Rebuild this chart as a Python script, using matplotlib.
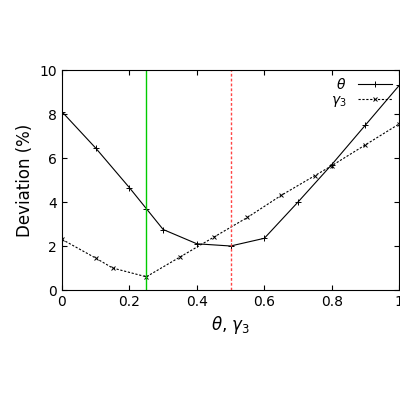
import matplotlib
matplotlib.use("Agg")
import matplotlib.pyplot as plt

theta_x = [0, 0.1, 0.2, 0.25, 0.3, 0.4, 0.5, 0.6, 0.7, 0.8, 0.9, 1.0]
theta_y = [8.1, 6.45, 4.65, 3.7, 2.75, 2.1, 2.0, 2.35, 4.0, 5.7, 7.5, 9.3]
gamma_x = [0, 0.1, 0.15, 0.25, 0.35, 0.45, 0.55, 0.65, 0.75, 0.8, 0.9, 1.0]
gamma_y = [2.3, 1.45, 1.0, 0.6, 1.5, 2.4, 3.3, 4.3, 5.2, 5.65, 6.6, 7.55]
vlines = [0.25, 0.5]

fig = plt.figure(figsize=(4, 4), dpi=100)
ax = fig.add_axes([0.155, 0.275, 0.843, 0.55])
ax.plot(theta_x, theta_y, color='black', lw=0.8, marker='+', ms=4, mew=0.7, label=r'$\theta$')
ax.plot(gamma_x, gamma_y, color='black', lw=0.8, ls=(0, (2, 1.5)), marker='x', ms=3, mew=0.7, label=r'$\gamma_3$')
ax.axvline(vlines[0], color='#00cc00', lw=1)
ax.axvline(vlines[1], color='#ff4444', lw=1, ls=(0, (2, 1.5)))
ax.set_xlim(0, 1)
ax.set_ylim(0, 10)
ax.set_xticks([0, 0.2, 0.4, 0.6, 0.8, 1])
ax.set_xticklabels(['0', '0.2', '0.4', '0.6', '0.8', '1'])
ax.set_yticks([0, 2, 4, 6, 8, 10])
ax.tick_params(direction='in', labelsize=10, top=True, right=True)
ax.set_xlabel(r'$\theta$, $\gamma_3$', fontsize=12)
ax.set_ylabel('Deviation (%)', fontsize=12)
leg = ax.legend(loc='upper right', frameon=False, markerfirst=False, fontsize=10, handlelength=2.5, borderaxespad=0.1, labelspacing=0.1)
fig.savefig('out.png', dpi=100)
